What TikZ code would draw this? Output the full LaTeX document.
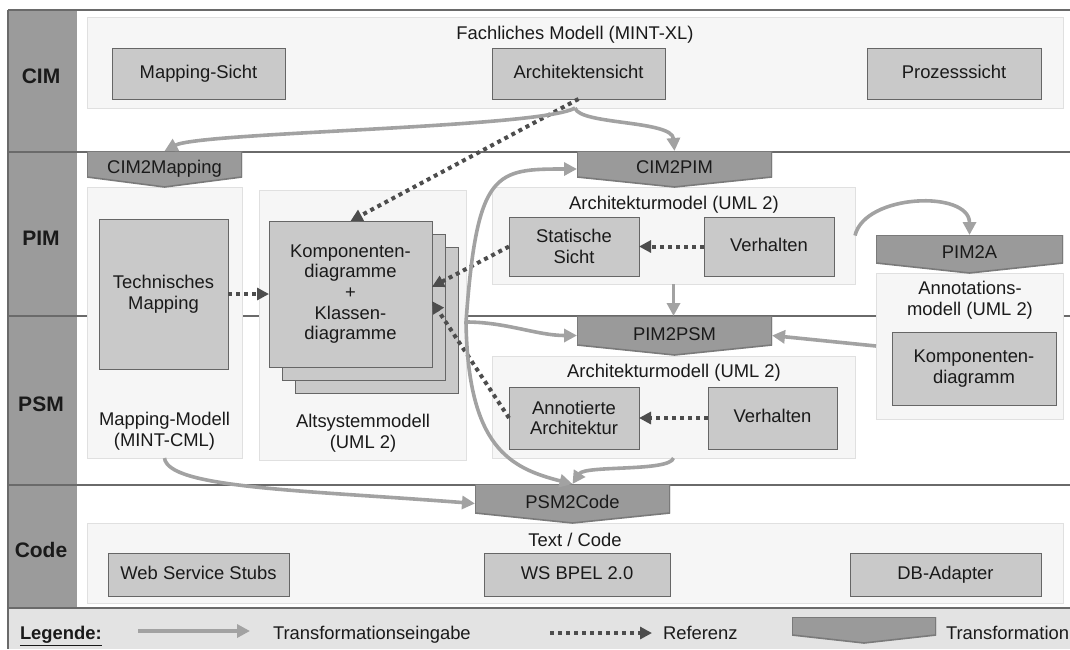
\documentclass[tikz,border=0pt]{standalone}
\usepackage{fontspec}
\setmainfont{Liberation Sans}
\usetikzlibrary{arrows.meta}

\definecolor{rowdark}{HTML}{9B9B9B}
\definecolor{rulegray}{HTML}{6A6A6A}
\definecolor{panelfill}{HTML}{F6F6F6}
\definecolor{paneldraw}{HTML}{E0E0E0}
\definecolor{boxfill}{HTML}{C9C9C9}
\definecolor{boxdraw}{HTML}{666666}
\definecolor{tffill}{HTML}{9A9A9A}
\definecolor{tfdraw}{HTML}{7A7A7A}
\definecolor{flowgray}{HTML}{A2A2A2}
\definecolor{refgray}{HTML}{4D4D4D}
\definecolor{legendfill}{HTML}{E3E3E3}
\definecolor{inktext}{HTML}{1A1A1A}

\newcommand\diafont{\fontsize{18.4pt}{20.7pt}\selectfont}
\newcommand\rowfont{\fontsize{21pt}{24pt}\selectfont\bfseries}

\begin{document}
\begin{tikzpicture}[x=1pt,y=-1pt,
  every node/.style={font=\diafont, text=inktext, inner sep=0pt, outer sep=0pt},
  oneline/.style={text height=13.2pt, text depth=3.9pt},
  panel/.style={draw=paneldraw, fill=panelfill, line width=1pt},
  box/.style={draw=boxdraw, fill=boxfill, line width=1pt, align=center},
  ttl/.style={align=center},
  rowlbl/.style={font=\rowfont},
  tform/.style={oneline, path picture={
      \fill[tffill, draw=tfdraw, line width=1.6pt]
        (path picture bounding box.north west) -- (path picture bounding box.north east)
        -- ([yshift=#1]path picture bounding box.south east)
        -- (path picture bounding box.south)
        -- ([yshift=#1]path picture bounding box.south west) -- cycle;}},
  tform/.default=10pt,
  flow/.style={draw=flowgray, line width=3.6pt, -{Triangle[length=13pt,width=13pt]}},
  refarrow/.style={draw=refgray, line width=4pt, dash pattern=on 4pt off 4pt,
      -{Triangle[length=12pt,width=12pt]}},
]
\useasboundingbox (0,0) rectangle (1070,649);

% frame, level column and legend band
\fill[legendfill] (8,608) rectangle (1070,649);
\fill[rowdark] (8,10) rectangle (77,608);
\foreach \yy in {10,152,316,485,608}
  \draw[rulegray, line width=1.5pt] (8,\yy) -- (1070,\yy);
\draw[rulegray, line width=1.5pt] (8,10) -- (8,649);

% level labels
\node[rowlbl] (lblcim) at (41,76) {CIM};
\node[rowlbl] (lblpim) at (41,238) {PIM};
\node[rowlbl] (lblpsm) at (41,404) {PSM};
\node[rowlbl] (lblcode) at (41,550) {Code};

% model panels
\node[panel, minimum width=976pt, minimum height=91pt] (cimp) at (575,62.5) {};
\node[panel, minimum width=155pt, minimum height=271pt] (mapp) at (164.5,322.5) {};
\node[panel, minimum width=207pt, minimum height=270pt] (altp) at (362.5,325) {};
\node[panel, minimum width=363pt, minimum height=97pt] (archp) at (673.5,235.5) {};
\node[panel, minimum width=363pt, minimum height=102pt] (psmp) at (673.5,407) {};
\node[panel, minimum width=187pt, minimum height=146pt] (annp) at (969.5,346) {};
\node[panel, minimum width=976pt, minimum height=80pt] (codep) at (575,563) {};

% panel titles
\node[ttl] (cimttl) at (575,35) {Fachliches Modell (MINT-XL)};
\node[ttl] (mapttl) at (164.5,431.5) {Mapping-Modell\\(MINT-CML)};
\node[ttl] (altttl) at (363,433) {Altsystemmodell\\(UML 2)};
\node[ttl] (archttl) at (674,205) {Architekturmodel (UML 2)};
\node[ttl] (psmttl) at (674,373) {Architekturmodell (UML 2)};
\node[ttl] (annttl) at (970,300) {Annotations-\\modell (UML 2)};
\node[ttl] (codettl) at (575,540) {Text / Code};

% model elements
\node[box, oneline, minimum width=173pt, minimum height=51pt] (mapsicht) at (198.5,73.5) {Mapping-Sicht};
\node[box, oneline, minimum width=173pt, minimum height=51pt] (archsicht) at (578.5,73.5) {Architektensicht};
\node[box, oneline, minimum width=174pt, minimum height=51pt] (prozsicht) at (954,73.5) {Prozesssicht};
\node[box, minimum width=129pt, minimum height=150pt] (techmap) at (163.5,294) {Technisches\\Mapping};
\node[box, minimum width=163pt, minimum height=146pt] (stackc) at (376.5,320) {};
\node[box, minimum width=163pt, minimum height=146pt] (stackb) at (363.5,307) {};
\node[box, minimum width=163pt, minimum height=146pt] (stack) at (350.5,294)
  {Komponenten-\\diagramme\\+\\Klassen-\\diagramme};
\node[box, minimum width=130pt, minimum height=59pt] (statsicht) at (574,246.5) {Statische\\Sicht};
\node[box, oneline, minimum width=130pt, minimum height=59pt] (verh1) at (769,246.5) {Verhalten};
\node[box, minimum width=130pt, minimum height=62pt] (annarch) at (574,418) {Annotierte\\Architektur};
\node[box, oneline, minimum width=129pt, minimum height=62pt] (verh2) at (772.5,418) {Verhalten};
\node[box, minimum width=164pt, minimum height=73pt] (kompdiag) at (974,368.5) {Komponenten-\\diagramm};
\node[box, oneline, minimum width=181pt, minimum height=43pt] (wss) at (198.5,574.5) {Web Service Stubs};
\node[box, oneline, minimum width=186pt, minimum height=43pt] (bpel) at (577,574.5) {WS BPEL 2.0};
\node[box, oneline, minimum width=191pt, minimum height=43pt] (dbad) at (945.5,574.5) {DB-Adapter};

% transformations
\node[tform, minimum width=155pt, minimum height=36pt] (cim2map) at (164.5,169) {CIM2Mapping};
\node[tform, minimum width=195pt, minimum height=36pt] (cim2pim) at (674.5,169) {CIM2PIM};
\node[tform, minimum width=195pt, minimum height=39pt] (pim2psm) at (674.5,335.5) {PIM2PSM};
\node[tform, minimum width=187pt, minimum height=38pt] (pim2a) at (969.5,254) {PIM2A};
\node[tform, minimum width=195pt, minimum height=39pt] (psm2code) at (572.5,503.5) {PSM2Code};

% references
\draw[refarrow] (archsicht.south) -- (stack.north);
\draw[refarrow] (techmap.east) -- (stack.west);
\draw[refarrow] (statsicht.west) -- (stack.5);
\draw[refarrow] (annarch.west) -- (stack.-5);
\draw[refarrow] (verh1.west) -- (statsicht.east);
\draw[refarrow] (verh2.west) -- (annarch.east);

% transformation inputs
\draw[flow] (cimp.south) .. controls +(-35,20) and +(35.5,-19) .. (cim2map.north);
\draw[flow] (cimp.south) .. controls +(5,17) and +(-2.5,-31) .. (cim2pim.north);
\draw[flow] ([yshift=3pt]altp.east) .. controls +(11,-152) and +(-82,0) .. (cim2pim.west);
\draw[flow] ([yshift=3pt]altp.east) .. controls +(40,0) and +(-40,0) .. (pim2psm.west);
\draw[flow] ([yshift=3pt]altp.east) .. controls +(2,125) and +(-63,-16) .. (psm2code.north);
\draw[flow] (archp.south) -- (archp.south |- pim2psm.north);
\draw[flow] (annp.west) -- (pim2psm.east);
\draw[flow] (archp.east) .. controls +(10,-42) and +(0,-45) .. (pim2a.north);
\draw[flow] (psmp.south) .. controls +(-4,14) and +(12.5,-19) .. (psm2code.north);
\draw[flow] (mapp.south) .. controls +(3.5,30) and +(-175,-13.5) .. (psm2code.west);

% legend
\node[anchor=base west] (legttl) at (20,639.6) {\underline{\textbf{Legende:}}};
\coordinate (legflowa) at (138,631);
\coordinate (legflowb) at (250,631);
\draw[flow] (legflowa) -- (legflowb);
\node[anchor=base west] (legflowtxt) at (273,639.6) {Transformationseingabe};
\coordinate (legrefa) at (550,633);
\coordinate (legrefb) at (652,633);
\draw[refarrow] (legrefa) -- (legrefb);
\node[anchor=base west] (legreftxt) at (663,639.6) {Referenz};
\node[tform=8pt, minimum width=144pt, minimum height=26pt] (legtf) at (864,630) {};
\node[anchor=base west] (legtftxt) at (946,639.6) {Transformation};
\end{tikzpicture}
\end{document}
